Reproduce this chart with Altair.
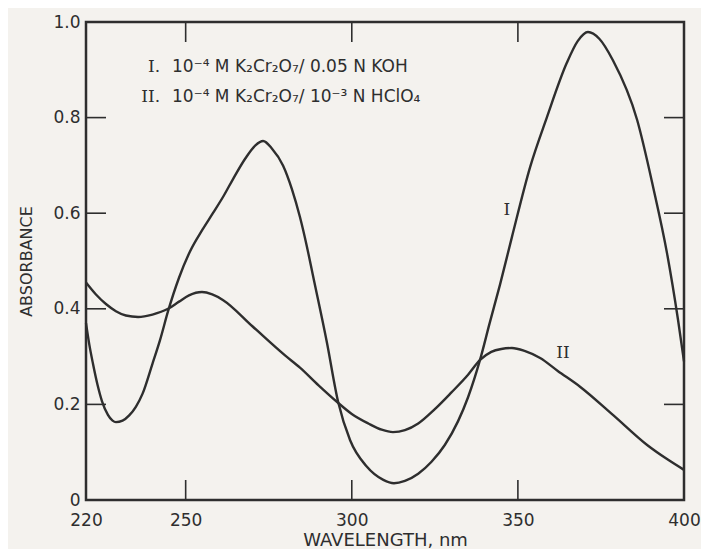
import altair as alt
import pandas as pd

# ---- data ----
wl_I = [220, 221, 222.1, 223.5, 224.8, 226.6, 228, 229, 231, 233, 235, 237, 240, 242.3,
        244.7, 248, 251.3, 255, 258.2, 261.5, 264.3, 268, 271, 273.3, 276, 279.3, 282,
        284.4, 286.5, 288.3, 292.5, 295.9, 299.5, 304.5, 309.5, 312.7, 316, 320, 324,
        328, 332, 335, 338.6, 341.5, 344.6, 348.2, 353.7, 358.7, 364.7, 368, 371.1,
        374.5, 378.6, 385.9, 390.7, 394.9, 398.2, 400]
abs_I = [0.37, 0.325, 0.285, 0.24, 0.207, 0.178, 0.166, 0.163, 0.166, 0.177, 0.195, 0.222,
         0.285, 0.335, 0.395, 0.465, 0.52, 0.565, 0.60, 0.637, 0.672, 0.715, 0.742, 0.751,
         0.735, 0.70, 0.65, 0.592, 0.53, 0.47, 0.33, 0.205, 0.125, 0.07, 0.042, 0.035,
         0.04, 0.055, 0.08, 0.115, 0.165, 0.215, 0.293, 0.37, 0.45, 0.55, 0.697, 0.80,
         0.914, 0.96, 0.979, 0.965, 0.92, 0.795, 0.655, 0.516, 0.377, 0.29]

wl_II = [220, 223, 226, 229, 232, 235.7, 240, 244.7, 248, 251, 254.9, 258, 261.3,
         270, 280, 284.4, 290, 295.6, 300, 305, 309, 312.4, 316, 320, 325, 330, 335,
         338.6, 342, 345, 348.2, 352, 356.7, 362, 368.7, 378.6, 388.9, 395, 400]
abs_II = [0.455, 0.43, 0.41, 0.395, 0.386, 0.383, 0.388, 0.40, 0.415, 0.428, 0.435, 0.43, 0.418,
          0.364, 0.302, 0.277, 0.24, 0.205, 0.18, 0.16, 0.147, 0.142, 0.146, 0.16, 0.19, 0.225, 0.262,
          0.293, 0.31, 0.316, 0.318, 0.312, 0.297, 0.27, 0.237, 0.178, 0.115, 0.085, 0.063]

x_ticks = [220, 250, 300, 350, 400]
y_ticks = [0, 0.2, 0.4, 0.6, 0.8, 1.0]
inner_x_ticks = [250, 300, 350]
inner_y_ticks = [0.2, 0.4, 0.6, 0.8]

legend_num = ["I.", "II."]
legend_txt = ["10\u207b\u2074 M  K\u2082Cr\u2082O\u2087/ 0.05 N  KOH",
              "10\u207b\u2074 M  K\u2082Cr\u2082O\u2087/ 10\u207b\u00b3 N  HClO\u2084"]
legend_y = [0.905, 0.844]
legend_num_x = [242.3, 242.3]
legend_txt_x = [245.9, 245.9]

curve_labels = ["I", "II"]
curve_label_x = [346.7, 363.6]
curve_label_y = [0.607, 0.307]

INK = "#2e2e2e"
W, H = 598, 478

df = pd.concat([
    pd.DataFrame({"wl": wl_I, "a": abs_I, "s": "I"}),
    pd.DataFrame({"wl": wl_II, "a": abs_II, "s": "II"}),
])

xs = alt.Scale(domain=[220, 400], nice=False, zero=False)
ys = alt.Scale(domain=[0, 1.0], nice=False)

xaxis = alt.Axis(values=x_ticks, grid=False, domain=False, ticks=False, tickSize=0,
                 labelFont="DejaVu Sans", labelFontSize=17, labelColor=INK, labelPadding=12,
                 title="WAVELENGTH, nm", titleFont="DejaVu Sans", titleFontSize=18,
                 titleFontWeight="normal", titleColor=INK, titleBaseline="alphabetic",
                 titleY=45, titleX=W / 2, labelFlush=False)
yaxis = alt.Axis(values=y_ticks, grid=False, domain=False, ticks=False, tickSize=0,
                 labelFont="DejaVu Sans", labelFontSize=17, labelColor=INK, labelPadding=6,
                 labelExpr="datum.value == 0 ? '0' : format(datum.value, '.1f')",
                 title="ABSORBANCE", titleFont="DejaVu Sans", titleFontSize=16,
                 titleFontWeight="normal", titleColor=INK, titleAngle=270,
                 titleBaseline="middle", titleAlign="center", titleX=-60, titleY=H / 2,
                 labelFlush=False)

lines = alt.Chart(df).mark_line(color=INK, strokeWidth=2.4, interpolate="monotone").encode(
    x=alt.X("wl:Q", scale=xs, axis=xaxis),
    y=alt.Y("a:Q", scale=ys, axis=yaxis),
    detail="s:N",
)

xt = pd.DataFrame({"wl": inner_x_ticks})
yt = pd.DataFrame({"a": inner_y_ticks})
tick_style = dict(color=INK, strokeWidth=1.6)
bottom_ticks = alt.Chart(xt).mark_rule(**tick_style).encode(
    x=alt.X("wl:Q", scale=xs), y=alt.value(H), y2=alt.value(H - 20))
top_ticks = alt.Chart(xt).mark_rule(**tick_style).encode(
    x=alt.X("wl:Q", scale=xs), y=alt.value(0), y2=alt.value(20))
left_ticks = alt.Chart(yt).mark_rule(**tick_style).encode(
    y=alt.Y("a:Q", scale=ys), x=alt.value(0), x2=alt.value(20))
right_ticks = alt.Chart(yt).mark_rule(**tick_style).encode(
    y=alt.Y("a:Q", scale=ys), x=alt.value(W - 20), x2=alt.value(W))

leg = pd.DataFrame({"num": legend_num, "txt": legend_txt, "y": legend_y,
                    "nx": legend_num_x, "tx": legend_txt_x})
leg_num = alt.Chart(leg).mark_text(align="right", baseline="middle", font="DejaVu Serif",
                                   fontSize=17, color=INK).encode(
    x=alt.X("nx:Q", scale=xs), y=alt.Y("y:Q", scale=ys), text="num:N")
leg_txt = alt.Chart(leg).mark_text(align="left", baseline="middle", font="DejaVu Sans",
                                   fontSize=17, color=INK).encode(
    x=alt.X("tx:Q", scale=xs), y=alt.Y("y:Q", scale=ys), text="txt:N")

cl = pd.DataFrame({"t": curve_labels, "x": curve_label_x, "y": curve_label_y})
curve_txt = alt.Chart(cl).mark_text(align="center", baseline="middle", font="DejaVu Serif",
                                    fontSize=17, color=INK).encode(
    x=alt.X("x:Q", scale=xs), y=alt.Y("y:Q", scale=ys), text="t:N")

chart = alt.layer(lines, bottom_ticks, top_ticks, left_ticks, right_ticks,
                  leg_num, leg_txt, curve_txt).properties(
    width=W, height=H,
    autosize=alt.AutoSizeParams(type="none"),
    padding={"left": 78, "top": 14, "right": 17, "bottom": 49},
    background="#f4f2ee",
).configure_view(stroke=INK, strokeWidth=2.5)

chart.save("out.html", embed_options={"renderer": "svg", "actions": False})
